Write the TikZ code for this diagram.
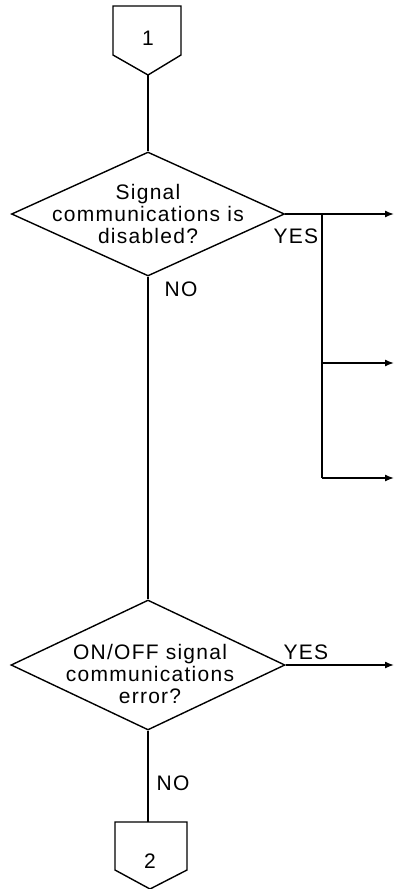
\documentclass[tikz,border=0pt]{standalone}
\usepackage{fontspec}
\setmainfont{Liberation Sans}[LetterSpace=6]
\usetikzlibrary{shapes.geometric,arrows.meta}
\begin{document}
\begin{tikzpicture}[x=1pt,y=-1pt,line width=1.4pt,
  txt/.style={font=\fontsize{21}{22}\selectfont,inner sep=0,align=center},
  decision/.style={diamond,draw,inner sep=0,minimum width=#1},
  arr/.style={-{Latex[length=9pt,width=7pt]}},
  offpage/.style={draw,line join=miter}]
\useasboundingbox (0,0) rectangle (395,889);

% off-page connector 1
\draw[offpage] (113,6) -- (181,6) -- (181,55) -- (148,75) -- (113,55) -- cycle;
\coordinate (c1) at (148,75);
\node[txt] (c1lbl) at (148,38) {1};

% first decision
\node[decision=273pt,minimum height=124pt] (d1) at (148,214) {};
\node[txt] (d1txt) at (148,214) {Signal\\communications is\\disabled?};
\node[txt] (yes1) at (296,236) {YES};
\node[txt] (no1) at (181,289) {NO};

% YES branches
\coordinate (b0) at (322,214);
\coordinate (b1) at (322,363);
\coordinate (b2) at (322,478);
\coordinate (e0) at (394,214);
\coordinate (e1) at (394,363);
\coordinate (e2) at (394,478);
\draw[arr] (d1.east) -- (e0);
\draw (b0) -- (b2);
\draw[arr] (b1) -- (e1);
\draw[arr] (b2) -- (e2);

% second decision
\node[decision=274pt,minimum height=130pt] (d2) at (148,665) {};
\node[txt] (d2txt) at (150,674) {ON/OFF signal\\communications\\error?};
\node[txt] (yes2) at (306,652) {YES};
\node[txt] (no2) at (173,783) {NO};
\coordinate (e3) at (394,665);
\draw[arr] (d2.east) -- (e3);

% off-page connector 2
\draw[offpage] (115,822) -- (187,822) -- (187,870) -- (150,889) -- (115,870) -- cycle;
\coordinate (c2) at (148,822);
\node[txt] (c2lbl) at (150,861) {2};

% main flow line
\draw (c1) -- (d1.north);
\draw (d1.south) -- (d2.north);
\draw (d2.south) -- (c2);
\end{tikzpicture}
\end{document}
